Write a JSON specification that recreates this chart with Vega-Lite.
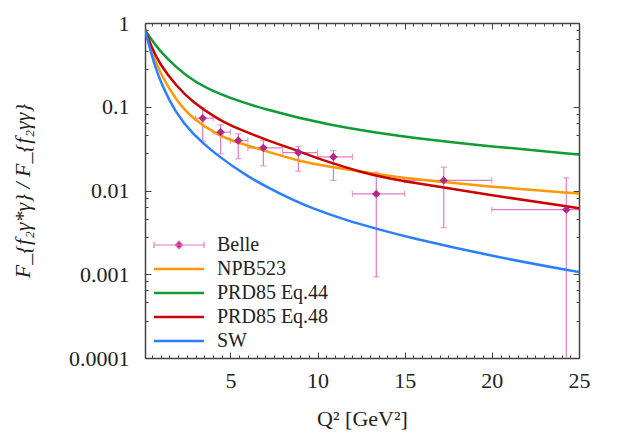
{
  "$schema": "https://vega.github.io/schema/vega-lite/v6.json",
  "width": 434,
  "height": 335,
  "autosize": "none",
  "padding": {"left": 145, "top": 23, "right": 43, "bottom": 77},
  "config": {
    "view": {"stroke": null},
    "font": "Liberation Serif",
    "axis": {
      "grid": false,
      "domainColor": "#444",
      "domainWidth": 1.5,
      "tickColor": "#444",
      "tickWidth": 1,
      "labelOverlap": false,
      "labelFlush": false
    }
  },
  "datasets": {
    "curves": [
      {"series": "NPB523", "q2": 0.1, "r": 0.83},
      {"series": "NPB523", "q2": 0.45, "r": 0.47},
      {"series": "NPB523", "q2": 0.94, "r": 0.257},
      {"series": "NPB523", "q2": 1.89, "r": 0.118},
      {"series": "NPB523", "q2": 2.85, "r": 0.0711},
      {"series": "NPB523", "q2": 4.29, "r": 0.046},
      {"series": "NPB523", "q2": 4.98, "r": 0.04},
      {"series": "NPB523", "q2": 6.89, "r": 0.0301},
      {"series": "NPB523", "q2": 8.81, "r": 0.0228},
      {"series": "NPB523", "q2": 10.72, "r": 0.019},
      {"series": "NPB523", "q2": 12.64, "r": 0.0167},
      {"series": "NPB523", "q2": 13.6, "r": 0.0155},
      {"series": "NPB523", "q2": 15.03, "r": 0.014},
      {"series": "NPB523", "q2": 20.05, "r": 0.011},
      {"series": "NPB523", "q2": 25, "r": 0.0092},
      {"series": "PRD85 Eq.44", "q2": 0.1, "r": 0.83},
      {"series": "PRD85 Eq.44", "q2": 0.45, "r": 0.64},
      {"series": "PRD85 Eq.44", "q2": 0.94, "r": 0.467},
      {"series": "PRD85 Eq.44", "q2": 1.89, "r": 0.295},
      {"series": "PRD85 Eq.44", "q2": 2.85, "r": 0.204},
      {"series": "PRD85 Eq.44", "q2": 4.29, "r": 0.1415},
      {"series": "PRD85 Eq.44", "q2": 6.9, "r": 0.093},
      {"series": "PRD85 Eq.44", "q2": 10.72, "r": 0.0598},
      {"series": "PRD85 Eq.44", "q2": 13.6, "r": 0.0484},
      {"series": "PRD85 Eq.44", "q2": 15.03, "r": 0.0437},
      {"series": "PRD85 Eq.44", "q2": 20.05, "r": 0.0333},
      {"series": "PRD85 Eq.44", "q2": 25, "r": 0.0269},
      {"series": "PRD85 Eq.48", "q2": 0.1, "r": 0.83},
      {"series": "PRD85 Eq.48", "q2": 0.45, "r": 0.53},
      {"series": "PRD85 Eq.48", "q2": 0.94, "r": 0.323},
      {"series": "PRD85 Eq.48", "q2": 1.89, "r": 0.178},
      {"series": "PRD85 Eq.48", "q2": 2.85, "r": 0.1125},
      {"series": "PRD85 Eq.48", "q2": 4.29, "r": 0.0711},
      {"series": "PRD85 Eq.48", "q2": 4.98, "r": 0.0598},
      {"series": "PRD85 Eq.48", "q2": 6.89, "r": 0.0414},
      {"series": "PRD85 Eq.48", "q2": 8.81, "r": 0.03},
      {"series": "PRD85 Eq.48", "q2": 10.72, "r": 0.0214},
      {"series": "PRD85 Eq.48", "q2": 12.64, "r": 0.0163},
      {"series": "PRD85 Eq.48", "q2": 13.6, "r": 0.0147},
      {"series": "PRD85 Eq.48", "q2": 15.03, "r": 0.0128},
      {"series": "PRD85 Eq.48", "q2": 20.05, "r": 0.0087},
      {"series": "PRD85 Eq.48", "q2": 25, "r": 0.00615},
      {"series": "SW", "q2": 0.1, "r": 0.83},
      {"series": "SW", "q2": 0.45, "r": 0.43},
      {"series": "SW", "q2": 0.94, "r": 0.204},
      {"series": "SW", "q2": 1.89, "r": 0.0816},
      {"series": "SW", "q2": 2.85, "r": 0.047},
      {"series": "SW", "q2": 4.01, "r": 0.0285},
      {"series": "SW", "q2": 5.94, "r": 0.0147},
      {"series": "SW", "q2": 7.85, "r": 0.0091},
      {"series": "SW", "q2": 9.76, "r": 0.006},
      {"series": "SW", "q2": 11.68, "r": 0.00438},
      {"series": "SW", "q2": 13.6, "r": 0.0034},
      {"series": "SW", "q2": 15.03, "r": 0.00282},
      {"series": "SW", "q2": 20.05, "r": 0.00163},
      {"series": "SW", "q2": 25, "r": 0.00106}
    ],
    "belle": [
      {"q2": 3.41, "q2lo": 3, "q2hi": 4, "r": 0.0731, "rlo": 0.0388, "rhi": 0.097},
      {"q2": 4.44, "q2lo": 4, "q2hi": 5, "r": 0.0497, "rlo": 0.0274, "rhi": 0.061},
      {"q2": 5.45, "q2lo": 5, "q2hi": 6, "r": 0.0395, "rlo": 0.0239, "rhi": 0.0476},
      {"q2": 6.89, "q2lo": 6, "q2hi": 8, "r": 0.0323, "rlo": 0.0197, "rhi": 0.0396},
      {"q2": 8.9, "q2lo": 8, "q2hi": 10, "r": 0.0284, "rlo": 0.017, "rhi": 0.0337},
      {"q2": 10.91, "q2lo": 10, "q2hi": 12, "r": 0.0252, "rlo": 0.0132, "rhi": 0.03},
      {"q2": 13.37, "q2lo": 12, "q2hi": 15, "r": 0.0091, "rlo": 0.00093, "rhi": 0.0166},
      {"q2": 17.24, "q2lo": 15, "q2hi": 20, "r": 0.0132, "rlo": 0.0036, "rhi": 0.019},
      {"q2": 24.27, "q2lo": 20, "q2hi": 30, "r": 0.0059, "rlo": 0.00001, "rhi": 0.0142}
    ]
  },
  "layer": [
    {
      "encoding": {
        "x": {
          "field": "q2",
          "type": "quantitative",
          "title": "Q² [GeV²]",
          "scale": {"domain": [0.1, 25], "nice": false, "zero": false},
          "axis": {
            "orient": "bottom",
            "values": [0.5, 1, 1.5, 2, 2.5, 3, 3.5, 4, 4.5, 5, 5.5, 6, 6.5, 7, 7.5, 8, 8.5, 9, 9.5, 10, 10.5, 11, 11.5, 12, 12.5, 13, 13.5, 14, 14.5, 15, 15.5, 16, 16.5, 17, 17.5, 18, 18.5, 19, 19.5, 20, 20.5, 21, 21.5, 22, 22.5, 23, 23.5, 24, 24.5, 25],
            "format": "~g",
            "labelExpr": "datum.value % 5 === 0 ? datum.label : ''",
            "tickSize": {"condition": {"test": "datum.value % 5 === 0", "value": -6}, "value": -3},
            "labelFont": "Liberation Serif",
            "labelFontSize": 22,
            "labelColor": "#222",
            "labelPadding": 18,
            "titleFont": "Liberation Serif",
            "titleFontSize": 22,
            "titleFontWeight": "normal",
            "titleColor": "#222",
            "titlePadding": 14
          }
        },
        "y": {
          "field": "r",
          "type": "quantitative",
          "title": "F_{f₂γ*γ} / F_{f₂γγ}",
          "scale": {"type": "log", "domain": [0.0001, 1], "nice": false},
          "axis": {
            "orient": "left",
            "values": [0.0001, 0.00028, 0.00046, 0.00064, 0.00082, 0.001, 0.0028, 0.0046, 0.0064, 0.0082, 0.01, 0.028, 0.046, 0.064, 0.082, 0.1, 0.28, 0.46, 0.64, 0.82, 1],
            "format": "~g",
            "labelExpr": "indexof([1, 0.1, 0.01, 0.001, 0.0001], datum.value) >= 0 ? datum.label : ''",
            "tickSize": {"condition": {"test": "indexof([1, 0.1, 0.01, 0.001, 0.0001], datum.value) >= 0", "value": -6}, "value": -3},
            "labelFont": "Liberation Serif",
            "labelFontSize": 22,
            "labelColor": "#222",
            "labelPadding": 22,
            "titleFont": "Liberation Serif",
            "titleFontSize": 22,
            "titleFontWeight": "normal",
            "titleFontStyle": "italic",
            "titleColor": "#222",
            "titlePadding": 34
          }
        }
      },
      "layer": [
        {
          "data": {"name": "belle"},
          "mark": {"type": "rule", "color": "#e07cc0", "strokeWidth": 1.2, "clip": true},
          "encoding": {
            "x": {"field": "q2lo", "type": "quantitative", "title": "Q² [GeV²]"},
            "x2": {"field": "q2hi"}
          }
        },
        {
          "data": {"name": "belle"},
          "mark": {"type": "point", "shape": "M0,-1V1", "size": 40, "color": "#e07cc0", "strokeWidth": 1.2, "clip": true},
          "encoding": {
            "x": {"field": "q2lo", "type": "quantitative", "title": "Q² [GeV²]"}
          }
        },
        {
          "data": {"name": "belle"},
          "mark": {"type": "point", "shape": "M0,-1V1", "size": 40, "color": "#e07cc0", "strokeWidth": 1.2, "clip": true},
          "encoding": {
            "x": {"field": "q2hi", "type": "quantitative", "title": "Q² [GeV²]"}
          }
        },
        {
          "data": {"name": "belle"},
          "mark": {"type": "rule", "color": "#e07cc0", "strokeWidth": 1.2, "clip": true},
          "encoding": {
            "y": {"field": "rlo", "type": "quantitative", "title": "F_{f₂γ*γ} / F_{f₂γγ}"},
            "y2": {"field": "rhi"}
          }
        },
        {
          "data": {"name": "belle"},
          "mark": {"type": "point", "shape": "M-1,0H1", "size": 40, "color": "#e07cc0", "strokeWidth": 1.2, "clip": true},
          "encoding": {
            "y": {"field": "rlo", "type": "quantitative", "title": "F_{f₂γ*γ} / F_{f₂γγ}"}
          }
        },
        {
          "data": {"name": "belle"},
          "mark": {"type": "point", "shape": "M-1,0H1", "size": 40, "color": "#e07cc0", "strokeWidth": 1.2, "clip": true},
          "encoding": {
            "y": {"field": "rhi", "type": "quantitative", "title": "F_{f₂γ*γ} / F_{f₂γγ}"}
          }
        },
        {
          "data": {"name": "curves"},
          "mark": {"type": "line", "strokeWidth": 2.5, "interpolate": "basis", "clip": true},
          "encoding": {
            "color": {
              "field": "series",
              "type": "nominal",
              "scale": {
                "domain": ["Belle", "NPB523", "PRD85 Eq.44", "PRD85 Eq.48", "SW"],
                "range": ["#e07cc0", "#ff9900", "#109b34", "#cc0000", "#2a7fff"]
              },
              "legend": {
                "title": null,
                "orient": "none",
                "legendX": 24,
                "legendY": 212,
                "padding": 0,
                "labelFont": "Liberation Serif",
                "labelFontSize": 20,
                "labelColor": "#222",
                "symbolSize": 100,
                "labelOffset": 28,
                "rowPadding": 4,
                "encode": {
                  "symbols": {
                    "update": {
                      "shape": {"signal": "datum.value === 'Belle' ? 'M-5,0H5M-5,-0.6V0.6M5,-0.6V0.6M0,-0.8L0.8,0L0,0.8L-0.8,0Z' : 'M-5,0H5'"},
                      "fill": {"signal": "datum.value === 'Belle' ? '#b5288a' : 'transparent'"},
                      "stroke": {"signal": "scale('color', datum.value)"},
                      "strokeWidth": {"signal": "datum.value === 'Belle' ? 1.2 : 2.5"},
                      "opacity": {"value": 1}
                    }
                  }
                }
              }
            }
          }
        },
        {
          "data": {"name": "belle"},
          "mark": {"type": "point", "shape": "diamond", "filled": true, "size": 70, "color": "#b5288a", "opacity": 1, "clip": true}
        }
      ]
    },
    {
      "data": {"name": "curves"},
      "mark": {"type": "point", "opacity": 0},
      "encoding": {
        "x": {
          "field": "q2",
          "type": "quantitative",
          "scale": {"domain": [0.1, 25], "nice": false, "zero": false},
          "axis": {
            "orient": "top",
            "title": null,
            "labels": false,
            "values": [0.5, 1, 1.5, 2, 2.5, 3, 3.5, 4, 4.5, 5, 5.5, 6, 6.5, 7, 7.5, 8, 8.5, 9, 9.5, 10, 10.5, 11, 11.5, 12, 12.5, 13, 13.5, 14, 14.5, 15, 15.5, 16, 16.5, 17, 17.5, 18, 18.5, 19, 19.5, 20, 20.5, 21, 21.5, 22, 22.5, 23, 23.5, 24, 24.5, 25],
            "tickSize": {"condition": {"test": "datum.value % 5 === 0", "value": -6}, "value": -3}
          }
        },
        "y": {
          "field": "r",
          "type": "quantitative",
          "scale": {"type": "log", "domain": [0.0001, 1], "nice": false},
          "axis": {
            "orient": "right",
            "title": null,
            "labels": false,
            "values": [0.0001, 0.00028, 0.00046, 0.00064, 0.00082, 0.001, 0.0028, 0.0046, 0.0064, 0.0082, 0.01, 0.028, 0.046, 0.064, 0.082, 0.1, 0.28, 0.46, 0.64, 0.82, 1],
            "tickSize": {"condition": {"test": "indexof([1, 0.1, 0.01, 0.001, 0.0001], datum.value) >= 0", "value": -6}, "value": -3}
          }
        }
      }
    }
  ],
  "resolve": {"scale": {"x": "independent", "y": "independent"}}
}
